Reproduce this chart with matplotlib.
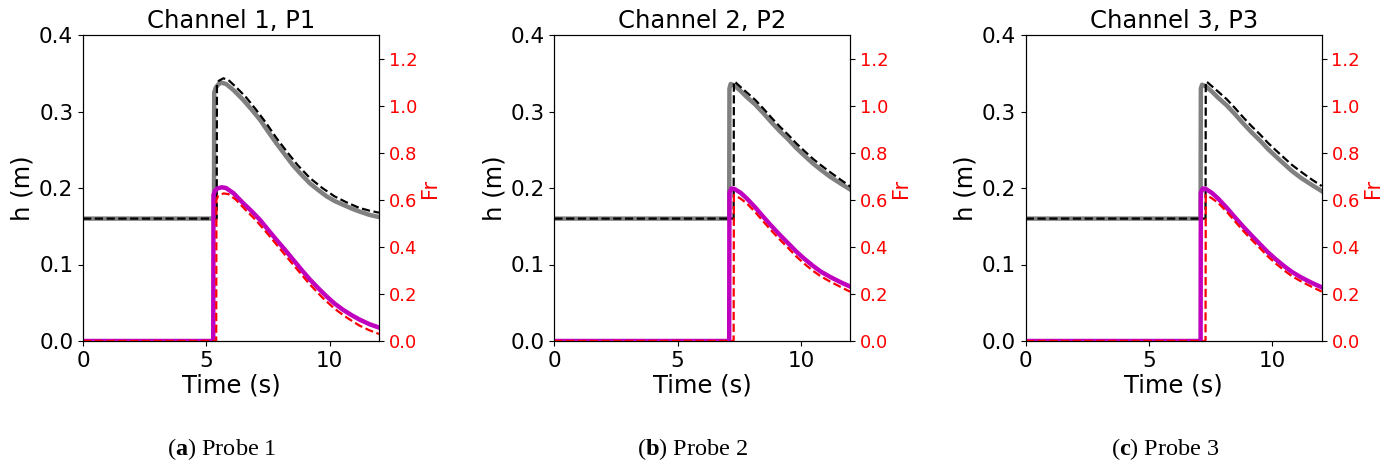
import matplotlib
matplotlib.use('Agg')
import matplotlib.pyplot as plt

plt.rcParams['mathtext.fontset'] = 'custom'
plt.rcParams['mathtext.rm'] = 'Liberation Serif'
plt.rcParams['mathtext.bf'] = 'Liberation Serif:bold'

# Panel titles and captions
titles = ['Channel 1, P1', 'Channel 2, P2', 'Channel 3, P3']
letters = ['a', 'b', 'c']
captions = ['Probe 1', 'Probe 2', 'Probe 3']

# Channel 1 - water depth h (m)
t_h1_num = [0, 5.31, 5.32, 5.38, 5.5, 5.62, 5.8, 6.1, 6.5, 6.85, 7.18, 7.5, 7.85, 8.2, 8.53,
            8.87, 9.2, 9.55, 9.88, 10.2, 10.55, 10.9, 11.23, 11.6, 12.0]
h1_num = [0.16, 0.16, 0.325, 0.331, 0.336, 0.3376, 0.336, 0.328, 0.315, 0.302, 0.289, 0.274,
          0.258, 0.243, 0.229, 0.217, 0.206, 0.197, 0.189, 0.183, 0.178, 0.173, 0.169, 0.165, 0.162]
t_h1_ref = [0, 5.42, 5.43, 5.5, 5.69, 5.9, 6.2, 6.6, 7.0, 7.4, 7.85, 8.3, 8.7, 9.2, 9.7, 10.2,
            10.7, 11.2, 11.6, 12.0]
h1_ref = [0.16, 0.16, 0.335, 0.340, 0.3434, 0.341, 0.332, 0.319, 0.303, 0.286, 0.265, 0.246,
          0.230, 0.213, 0.200, 0.189, 0.181, 0.174, 0.1705, 0.1677]
# Channel 1 - Froude number
t_fr1_num = [0, 5.28, 5.29, 5.35, 5.45, 5.62, 5.8, 6.1, 6.5, 6.85, 7.18, 7.5, 7.85, 8.2, 8.53,
             8.87, 9.2, 9.55, 9.88, 10.2, 10.55, 10.9, 11.23, 11.6, 12.0]
fr1_num = [0, 0, 0.62, 0.638, 0.648, 0.653, 0.650, 0.628, 0.585, 0.550, 0.514, 0.473, 0.429,
           0.386, 0.344, 0.301, 0.261, 0.223, 0.189, 0.159, 0.132, 0.109, 0.090, 0.072, 0.057]
t_fr1_ref = [0, 5.40, 5.41, 5.48, 5.7, 5.9, 6.2, 6.6, 7.0, 7.4, 7.85, 8.3, 8.7, 9.2, 9.7, 10.2,
             10.7, 11.2, 11.6, 12.0]
fr1_ref = [0, 0, 0.60, 0.617, 0.627, 0.624, 0.600, 0.556, 0.514, 0.466, 0.409, 0.352, 0.302,
           0.240, 0.185, 0.137, 0.099, 0.066, 0.046, 0.030]

# Channel 2
t_h2_num = [0, 7.09, 7.10, 7.15, 7.3, 7.55, 7.8, 8.15, 8.47, 8.8, 9.15, 9.5, 9.82, 10.15,
            10.49, 10.8, 11.17, 11.6, 12.0]
h2_num = [0.16, 0.16, 0.330, 0.336, 0.334, 0.327, 0.319, 0.309, 0.298, 0.286, 0.274, 0.263,
          0.252, 0.242, 0.232, 0.224, 0.215, 0.206, 0.198]
t_h2_ref = [0, 7.27, 7.28, 7.35, 7.55, 7.8, 8.15, 8.47, 8.8, 9.15, 9.5, 9.82, 10.15, 10.49,
            10.8, 11.17, 11.6, 12.0]
h2_ref = [0.16, 0.16, 0.339, 0.338, 0.332, 0.325, 0.315, 0.304, 0.292, 0.280, 0.269, 0.258,
          0.248, 0.238, 0.230, 0.221, 0.211, 0.202]
t_fr2_num = [0, 7.09, 7.10, 7.18, 7.3, 7.55, 7.8, 8.15, 8.47, 8.8, 9.15, 9.5, 9.82, 10.15,
             10.49, 10.8, 11.17, 11.6, 12.0]
fr2_num = [0, 0, 0.63, 0.648, 0.646, 0.630, 0.606, 0.567, 0.528, 0.489, 0.450, 0.413, 0.379,
           0.348, 0.319, 0.295, 0.273, 0.250, 0.231]
t_fr2_ref = [0, 7.27, 7.28, 7.35, 7.55, 7.8, 8.15, 8.47, 8.8, 9.15, 9.5, 9.82, 10.15, 10.49,
             10.8, 11.17, 11.6, 12.0]
fr2_ref = [0, 0, 0.620, 0.617, 0.605, 0.585, 0.547, 0.508, 0.469, 0.430, 0.393, 0.358, 0.327,
           0.298, 0.275, 0.253, 0.230, 0.209]

# Channel 3
t_h3_num = [0, 7.09, 7.10, 7.15, 7.3, 7.55, 7.8, 8.15, 8.47, 8.8, 9.15, 9.5, 9.82, 10.15,
            10.49, 10.8, 11.17, 11.6, 12.0]
h3_num = [0.16, 0.16, 0.330, 0.335, 0.333, 0.326, 0.318, 0.308, 0.297, 0.285, 0.273, 0.262,
          0.251, 0.241, 0.231, 0.222, 0.213, 0.204, 0.196]
t_h3_ref = [0, 7.29, 7.30, 7.37, 7.55, 7.8, 8.15, 8.47, 8.8, 9.15, 9.5, 9.82, 10.15, 10.49,
            10.8, 11.17, 11.6, 12.0]
h3_ref = [0.16, 0.16, 0.339, 0.338, 0.333, 0.326, 0.316, 0.305, 0.293, 0.281, 0.270, 0.259,
          0.249, 0.239, 0.230, 0.221, 0.211, 0.2026]
t_fr3_num = [0, 7.09, 7.10, 7.18, 7.3, 7.55, 7.8, 8.15, 8.47, 8.8, 9.15, 9.5, 9.82, 10.15,
             10.49, 10.8, 11.17, 11.6, 12.0]
fr3_num = [0, 0, 0.63, 0.648, 0.646, 0.629, 0.605, 0.566, 0.527, 0.488, 0.449, 0.411, 0.377,
           0.346, 0.317, 0.293, 0.270, 0.247, 0.228]
t_fr3_ref = [0, 7.29, 7.30, 7.37, 7.55, 7.8, 8.15, 8.47, 8.8, 9.15, 9.5, 9.82, 10.15, 10.49,
             10.8, 11.17, 11.6, 12.0]
fr3_ref = [0, 0, 0.620, 0.617, 0.606, 0.587, 0.549, 0.510, 0.470, 0.431, 0.394, 0.359, 0.328,
           0.299, 0.275, 0.253, 0.230, 0.210]

panels = [
    (t_h1_num, h1_num, t_h1_ref, h1_ref, t_fr1_num, fr1_num, t_fr1_ref, fr1_ref),
    (t_h2_num, h2_num, t_h2_ref, h2_ref, t_fr2_num, fr2_num, t_fr2_ref, fr2_ref),
    (t_h3_num, h3_num, t_h3_ref, h3_ref, t_fr3_num, fr3_num, t_fr3_ref, fr3_ref),
]

fig = plt.figure(figsize=(13.94, 4.66), dpi=100)
lefts = [83, 554.3, 1025.7]
cap_x = [222, 693, 1165]

for i, (th, h, thr, hr, tf, fr, tfr, frr) in enumerate(panels):
    ax = fig.add_axes([lefts[i] / 1394, 125 / 466, 296 / 1394, 306 / 466])
    ax.plot(th, h, color='gray', lw=3.2, solid_joinstyle='round')
    ax.plot(thr, hr, 'k--', lw=1.6)
    ax.set_xlim(0, 12)
    ax.set_ylim(0, 0.4)
    ax.set_xticks([0, 5, 10])
    ax.set_yticks([0, 0.1, 0.2, 0.3, 0.4])
    ax.tick_params(labelsize=15.5)
    ax.set_xlabel('Time (s)', fontsize=17.5, labelpad=2)
    ax.set_ylabel('h (m)', fontsize=17.5, labelpad=3)
    ax.set_title(titles[i], fontsize=17.5, pad=5)

    ax2 = ax.twinx()
    ax2.plot(tf, fr, color='m', lw=3.2, solid_joinstyle='round')
    ax2.plot(tfr, frr, 'r--', lw=1.6)
    ax2.set_ylim(0, 1.3)
    ax2.set_yticks([0, 0.2, 0.4, 0.6, 0.8, 1.0, 1.2])
    ax2.tick_params(axis='y', labelcolor='r', labelsize=13)
    ax2.set_ylabel('Fr', color='r', fontsize=15, labelpad=2)

    fig.text(cap_x[i] / 1394, 1 - 449 / 466,
             r'($\mathbf{%s}$) %s' % (letters[i], captions[i]),
             family='Liberation Serif', fontsize=17.5, ha='center', va='center')

fig.savefig('out.png', dpi=100)
